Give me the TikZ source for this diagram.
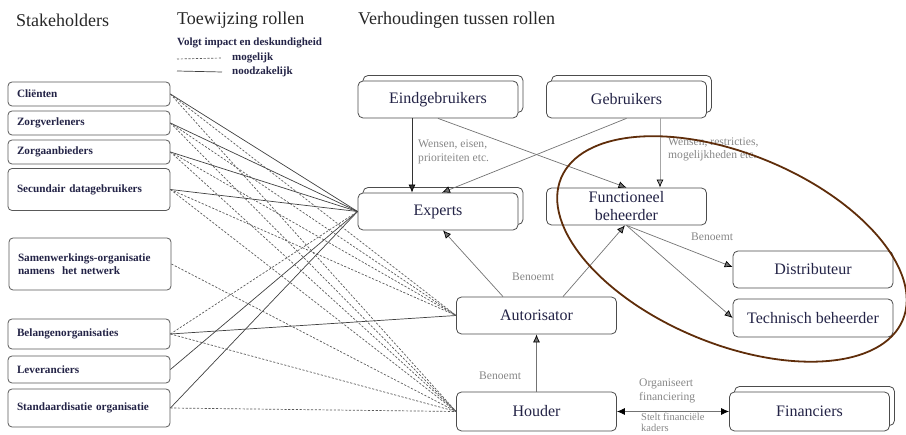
\documentclass[tikz,border=0pt]{standalone}
\usepackage{fontspec}
\setmainfont{Liberation Serif}
\usetikzlibrary{positioning,shadows,arrows.meta}
\definecolor{boxtext}{RGB}{35,35,70}
\definecolor{labelgray}{RGB}{135,135,135}
\definecolor{ringbrown}{RGB}{95,45,10}

\begin{document}
\begin{tikzpicture}[x=1pt,y=-1pt]
    % Setup the styles for the boxes and lines
        \tikzset{stake/.style={draw=black!65,
                               line width=0.8pt,
                               rounded corners=4pt,
                               minimum width=162pt,
                               text width=144pt,
                               inner xsep=9pt,
                               align=left,
                               font=\fontsize{11.2}{13.5}\selectfont\bfseries,
                               text=boxtext},
                 role/.style={draw=black!70,
                              line width=0.8pt,
                              rounded corners=5pt,
                              fill=white,
                              minimum width=160pt,
                              minimum height=37pt,
                              align=center,
                              font=\fontsize{16}{18}\selectfont,
                              text=boxtext},
                 multi/.style={copy shadow={shadow xshift=5pt, shadow yshift=5.5pt}},
                 heading/.style={anchor=west, inner sep=0pt,
                                 font=\fontsize{18}{20}\selectfont, text=black!85},
                 legend/.style={anchor=west, inner sep=0pt,
                                font=\fontsize{11}{13}\selectfont\bfseries, text=boxtext},
                 note/.style={anchor=west, inner sep=0pt, align=left,
                              font=\fontsize{11.6}{13.5}\selectfont, text=labelgray},
                 must/.style={draw=black!75, line width=0.7pt},
                 maybe/.style={draw=black!65, line width=0.7pt, dash pattern=on 2.2pt off 1.6pt},
                 arrowline/.style={line width=0.7pt, -{Latex[length=8pt,width=7pt,color=black]}}}
        \useasboundingbox (0,0) rectangle (906,435);
        \clip (0,0) rectangle (906,435);
        % Headings and legend
        \node[heading] at (16,20)  (hstake) {Stakeholders};
        \node[heading] at (177,20) (htoew)  {Toewijzing rollen};
        \node[heading] at (358,20) (hverh)  {Verhoudingen tussen rollen};
        \node[legend] at (177,43) (legtitle) {Volgt impact en deskundigheid};
        \node[legend] at (232,58) (legmaybe) {mogelijk};
        \node[legend] at (232,72) (legmust)  {noodzakelijk};
        \coordinate (dashstart)  at (177,59);
        \coordinate (solidstart) at (177,71);
        \draw[maybe] (dashstart)  -- (legmaybe.west -| 222,0);
        \draw[must]  (solidstart) -- (legmust.west -| 222,0);
        % Draw the stakeholders
        \node[stake, minimum height=24pt] at (89,94)    (clienten)       {Cliënten};
        \node[stake, minimum height=24pt] at (89,123)   (zorgverleners)  {Zorgverleners};
        \node[stake, minimum height=24pt] at (89,152)   (zorgaanbieders) {Zorgaanbieders};
        \node[stake, minimum height=42pt] at (89,189.5) (secundair)      {Secundair datagebruikers};
        \node[stake, minimum height=52pt] at (90,264)   (samenwerking)   {Samenwerkings-organisatie\\namens\ \ het netwerk};
        \node[stake, minimum height=30pt] at (89,334)   (belangen)       {Belangenorganisaties};
        \node[stake, minimum height=27pt] at (89,369.5) (leveranciers)   {Leveranciers};
        \node[stake, minimum height=38pt] at (89,408)   (standaard)      {Standaardisatie organisatie};
        % Draw the roles
        \node[role, multi] at (438,99.5)    (eind)        {Eindgebruikers};
        \node[role, multi] at (626.5,99.5)  (gebr)        {Gebruikers};
        \node[role, multi] at (438,211.5)   (experts)     {Experts};
        \node[role]        at (626.5,206.5) (functioneel) {Functioneel\\beheerder};
        \node[role]        at (536.5,315.5) (autorisator) {Autorisator};
        \node[role, minimum height=39pt] at (536.5,411.5) (houder) {Houder};
        \node[role]        at (813,269.5)   (distributeur) {Distributeur};
        \node[role, minimum height=38pt] at (813,318) (technisch) {Technisch beheerder};
        \node[role, multi, minimum height=39pt] at (809.5,411.5) (financiers) {Financiers};
        % Connect the stakeholders with the roles
        \draw[must]
            (clienten.east)       edge (experts.west)
            (zorgverleners.east)  edge (experts.west)
            (zorgaanbieders.east) edge (experts.west)
            (secundair.east)      edge (experts.west)
            (leveranciers.east)   edge (experts.west)
            (standaard.east)      edge (experts.west)
            (belangen.east)       edge (autorisator.west);
        \draw[maybe]
            (clienten.east)       edge (autorisator.west)
            (zorgverleners.east)  edge (autorisator.west)
            (zorgaanbieders.east) edge (autorisator.west)
            (secundair.east)      edge (autorisator.west)
            (belangen.east)       edge (experts.west)
            (clienten.east)       edge (houder.west)
            (zorgverleners.east)  edge (houder.west)
            (zorgaanbieders.east) edge (houder.west)
            (secundair.east)      edge (houder.west)
            (samenwerking.east)   edge (houder.west)
            (belangen.east)       edge (houder.west)
            (standaard.east)      edge (houder.west);
        % Connect the roles with arrows
        \path[arrowline, color=black!80]
            ([xshift=-26pt]eind.south) edge ([xshift=-26pt]experts.north);
        \path[arrowline, color=black!55]
            (eind.south)                        edge (functioneel.north)
            (gebr.south)                        edge ([xshift=4pt]experts.north)
            ([xshift=-33.5pt]autorisator.north) edge ([xshift=5pt]experts.south)
            ([xshift=26.5pt]autorisator.north)  edge ([xshift=-1.5pt]functioneel.south)
            (functioneel.south)                 edge ([yshift=2.5pt]distributeur.west)
            (functioneel.south)                 edge (technisch.west)
            (houder.north)                      edge (autorisator.south);
        \path[arrowline, color=black!35]
            ([xshift=33.5pt]gebr.south) edge ([xshift=33.5pt]functioneel.north);
        \draw[line width=0.7pt, draw=black!55,
              {Latex[length=8pt,width=7pt,color=black]}-{Latex[length=8pt,width=7pt,color=black]}]
            (houder.east) -- (financiers.west);
        % Labels on the arrows
        \node[note] at (418,152)   (wensen1)  {Wensen, eisen,\\prioriteiten etc.};
        \node[note] at (668,149.5) (wensen2)  {Wensen, restricties,\\mogelijkheden etc.};
        \node[note] at (691,237)   (benoemt1) {Benoemt};
        \node[note] at (512,277)   (benoemt2) {Benoemt};
        \node[note] at (479,376)   (benoemt3) {Benoemt};
        \node[note] at (639,391)   (organ)    {Organiseert\\financiering};
        \node[note, anchor=north west, font=\fontsize{10.5}{11}\selectfont] at (641,413) (stelt) {Stelt financiële\\kaders};
        % The ring round the management roles
        \coordinate (ringc) at (732,249);
        \draw[draw=ringbrown, line width=1.8pt, rotate around={-22.5:(ringc)}]
            (ringc) ellipse [x radius=185pt, y radius=95pt];
\end{tikzpicture}
\end{document}
